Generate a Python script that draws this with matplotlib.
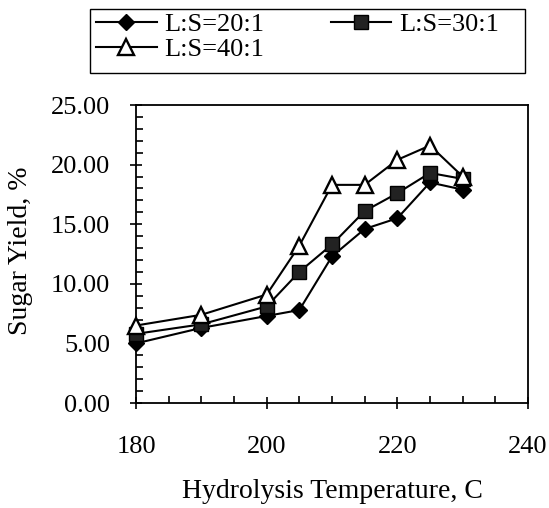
import matplotlib
matplotlib.use("Agg")
import matplotlib.pyplot as plt
from matplotlib.patches import Rectangle
from matplotlib.ticker import MultipleLocator, FormatStrFormatter

plt.rcParams['font.family'] = ['Liberation Serif', 'DejaVu Serif']

# hydrolysis temperature (C) and sugar yield (%)
temps = [180, 190, 200, 205, 210, 215, 220, 225, 230]
ls20 = [5.0, 6.3, 7.3, 7.8, 12.3, 14.6, 15.5, 18.5, 17.9]
ls30 = [5.8, 6.6, 8.1, 11.0, 13.3, 16.1, 17.6, 19.3, 18.8]
ls40 = [6.5, 7.4, 9.1, 13.2, 18.3, 18.3, 20.4, 21.6, 19.0]

fs = 19

fig = plt.figure(figsize=(5.49, 5.08), dpi=100)
ax = fig.add_axes([136/549, 1-403/508, (528-136)/549, (403-105)/508])

l20, = ax.plot(temps, ls20, "-", color="black", lw=1.5, marker="D",
               markersize=8.5, markerfacecolor="black", markeredgecolor="black",
               zorder=3, clip_on=False)
l30, = ax.plot(temps, ls30, "-", color="black", lw=1.5, marker="s",
               markersize=10, markerfacecolor="#222222", markeredgecolor="black",
               zorder=3, clip_on=False)
l40, = ax.plot(temps, ls40, "-", color="black", lw=1.5, marker="^",
               markersize=12, markerfacecolor="white", markeredgecolor="black",
               markeredgewidth=1.7, zorder=4, clip_on=False)

ax.set_xlim(180, 240)
ax.set_ylim(0, 25)
ax.xaxis.set_major_locator(MultipleLocator(20))
ax.xaxis.set_minor_locator(MultipleLocator(5))
ax.yaxis.set_major_locator(MultipleLocator(5))
ax.yaxis.set_minor_locator(MultipleLocator(1))
ax.yaxis.set_major_formatter(FormatStrFormatter("%.2f"))

ax.tick_params(which="major", direction="inout", length=9, width=1.2,
               labelsize=fs, top=False, right=False)
ax.tick_params(axis="x", which="major", pad=19)
ax.tick_params(axis="y", which="major", pad=14)
ax.tick_params(which="minor", direction="in", length=5, width=1.2,
               top=False, right=False)
for s in ax.spines.values():
    s.set_linewidth(1.3)

ax.set_xlabel("Hydrolysis Temperature, C", fontsize=20, va="center")
ax.xaxis.set_label_coords(0.5, (403-492)/298)
ax.set_ylabel("Sugar Yield, %", fontsize=20, va="center")
ax.yaxis.set_label_coords((21-136)/392, 0.51)

leg = fig.legend([l20, l40, l30], ["L:S=20:1", "L:S=40:1", "L:S=30:1"],
                 ncol=2, loc="upper left",
                 bbox_to_anchor=(96/549, 1-13/508), fontsize=fs,
                 frameon=False,
                 handlelength=2.3, columnspacing=2.5, labelspacing=0.05,
                 borderpad=0.0, handletextpad=0.3, borderaxespad=0)
fig.add_artist(Rectangle((90/549, 1-73/508), 435/549, 64/508,
                         transform=fig.transFigure, fill=False,
                         edgecolor="black", lw=1.0))

fig.savefig("out.png", dpi=100)
